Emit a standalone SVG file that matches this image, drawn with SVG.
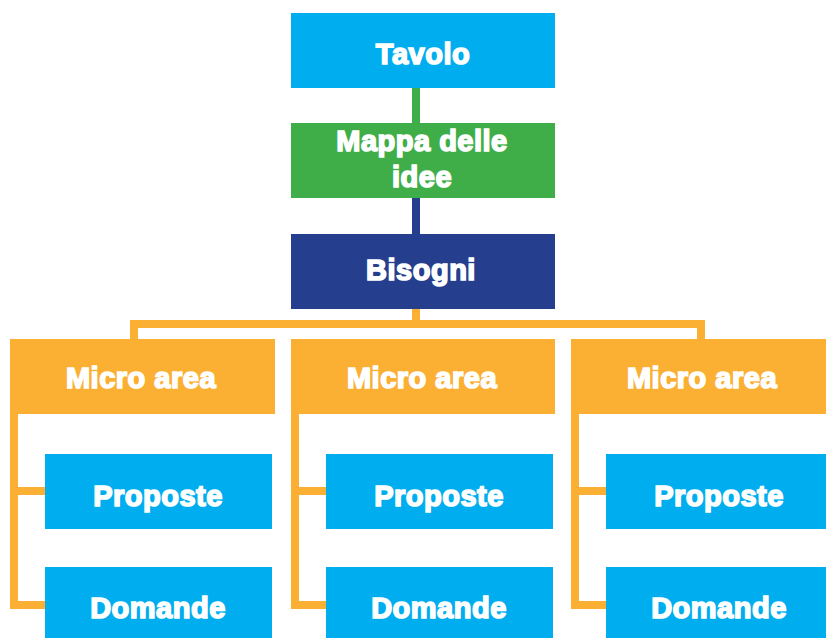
<svg xmlns="http://www.w3.org/2000/svg" width="826" height="638" viewBox="0 0 826 638">
<style>
.cyan{fill:#00AEEF}
.green{fill:#3FAE49}
.navy{fill:#253F8E}
.orange{fill:#FBB034}
.t{font-family:"Liberation Sans",Arial,sans-serif;font-weight:bold;font-size:29px;fill:#fff;stroke:#fff;stroke-width:1.6;letter-spacing:0.5px;text-anchor:middle}
.ln{fill:none;stroke-width:8;stroke-linejoin:miter;stroke-linecap:butt}
</style>
<rect width="826" height="638" fill="#fff"/>
<g id="connectors">
<line class="ln" x1="416" y1="88" x2="416" y2="123" stroke="#3FAE49" stroke-width="7"/>
<line class="ln" x1="416" y1="198" x2="416" y2="234" stroke="#253F8E"/>
<path class="ln" stroke="#FBB034" d="M416 309V324M134 339V324H701V339"/>
<path class="ln" stroke="#FBB034" d="M14 414V605H45M14 491H45"/>
<path class="ln" stroke="#FBB034" d="M295 414V605H326M295 491H326"/>
<path class="ln" stroke="#FBB034" d="M575 414V605H606M575 491H606"/>
</g>
<g id="tavolo"><rect class="cyan" x="291" y="13" width="264" height="75"/><text class="t" x="423" y="64">Tavolo</text></g>
<g id="mappa"><rect class="green" x="291" y="123" width="264" height="75"/><text class="t" x="422" y="151">Mappa delle</text><text class="t" x="422" y="187">idee</text></g>
<g id="bisogni"><rect class="navy" x="291" y="234" width="264" height="75"/><text class="t" x="421" y="280">Bisogni</text></g>
<g id="micro1"><rect class="orange" x="10" y="339" width="265" height="75"/><text class="t" x="141" y="388">Micro area</text></g>
<g id="micro2"><rect class="orange" x="291" y="339" width="264" height="75"/><text class="t" x="422" y="388">Micro area</text></g>
<g id="micro3"><rect class="orange" x="571" y="339" width="262" height="75"/><text class="t" x="702" y="388">Micro area</text></g>
<g id="proposte1"><rect class="cyan" x="45" y="454" width="227" height="75"/><text class="t" x="158" y="506">Proposte</text></g>
<g id="proposte2"><rect class="cyan" x="326" y="454" width="227" height="75"/><text class="t" x="439" y="506">Proposte</text></g>
<g id="proposte3"><rect class="cyan" x="606" y="454" width="227" height="75"/><text class="t" x="719" y="506">Proposte</text></g>
<g id="domande1"><rect class="cyan" x="45" y="567" width="227" height="75"/><text class="t" x="158" y="618">Domande</text></g>
<g id="domande2"><rect class="cyan" x="326" y="567" width="227" height="75"/><text class="t" x="439" y="618">Domande</text></g>
<g id="domande3"><rect class="cyan" x="606" y="567" width="227" height="75"/><text class="t" x="719" y="618">Domande</text></g>
</svg>
